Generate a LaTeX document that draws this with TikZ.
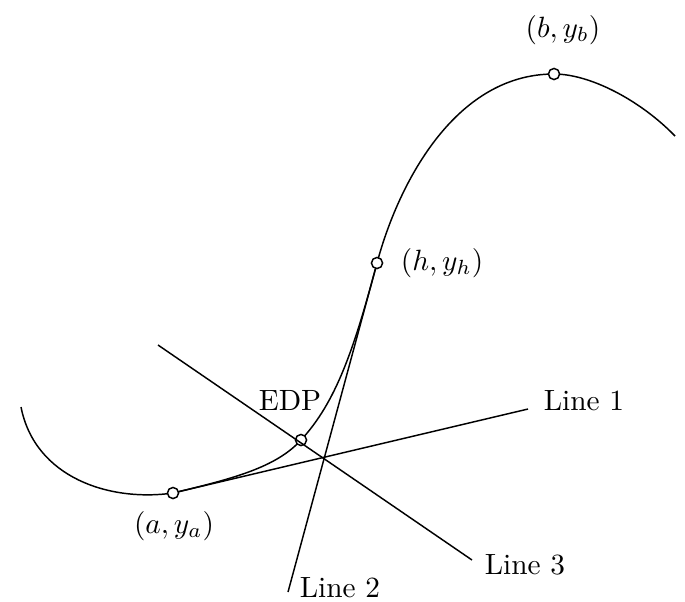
\documentclass[tikz,border=0pt]{standalone}
\begin{document}
\begin{tikzpicture}[x=0.341pt,y=-0.341pt,
  pt/.style={circle,draw,fill=white,inner sep=0pt,minimum size=3.8pt,line width=0.5pt},
  ln/.style={line width=0.5pt}]
\useasboundingbox (0,0) rectangle (685,601);
% key points
\coordinate (Ps) at (21,407);
\coordinate (Pa) at (173,493);
\coordinate (Pe) at (301,440);
\coordinate (Ph) at (377,263);
\coordinate (Pb) at (554,74);
\coordinate (Pz) at (675,136);
% curve
\draw[ln] (Ps) .. controls (35,478) and (110,502) .. (Pa)
  .. controls (233,478.6) and (276,467.5) .. (Pe)
  .. controls (336,402) and (353.8,350) .. (Ph)
  .. controls (397.6,185.7) and (454,74) .. (Pb)
  .. controls (590,74) and (640,100) .. (Pz);
% end points
\coordinate (L1e) at (528,409);
\coordinate (L2e) at (288,592);
\coordinate (L3s) at (158,345);
\coordinate (L3e) at (472,560);
% marked points
\node[pt] (A) at (Pa) {};
\node[pt] (E) at (Pe) {};
\node[pt] (H) at (Ph) {};
\node[pt] (B) at (Pb) {};
% lines
\draw[ln] (A) -- (L1e);
\draw[ln] (H) -- (L2e);
\draw[ln] (L3s) -- (L3e);
% labels
\node (tB) at (563,30) {$(b,y_b)$};
\node (tH) at (442,263) {$(h,y_h)$};
\node (tE) at (290,400) {EDP};
\node (tA) at (174,526) {$(a,y_a)$};
\node (t1) at (584,401) {Line 1};
\node (t2) at (340,588) {Line 2};
\node (t3) at (525,565) {Line 3};
\end{tikzpicture}
\end{document}
